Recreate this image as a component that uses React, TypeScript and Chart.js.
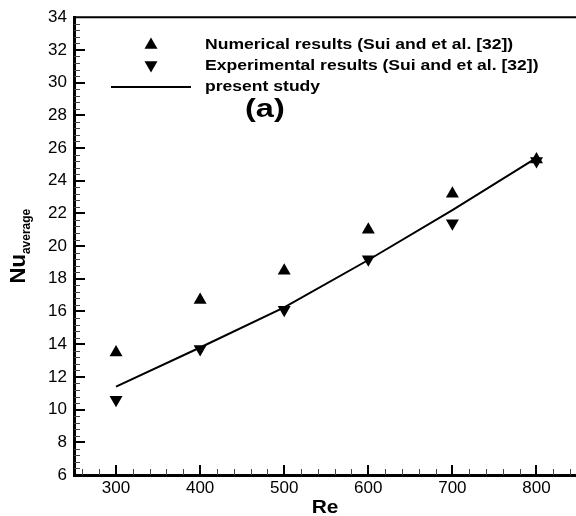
import React, { useEffect, useRef } from 'react';
import { Chart, registerables } from 'chart.js';

Chart.register(...registerables);

const RE = [300, 400, 500, 600, 700, 800];
const NUMERICAL = [13.5, 16.7, 18.5, 21.0, 23.2, 25.3];
const EXPERIMENTAL = [10.6, 13.7, 16.1, 19.2, 21.4, 25.2];
const PRESENT = [11.4, 13.8, 16.25, 19.15, 22.2, 25.4];
const X_TICKS = [300, 400, 500, 600, 700, 800];
const Y_TICKS = [6, 8, 10, 12, 14, 16, 18, 20, 22, 24, 26, 28, 30, 32, 34];
const LEGEND_LABELS = [
  'Numerical results (Sui and et al. [32])',
  'Experimental results (Sui and et al. [32])',
  'present study',
];
const PANEL_LABEL = '(a)';
const X_TITLE = 'Re';
const Y_TITLE = 'Nu';
const Y_SUB = 'average';

const FONT = '"Liberation Sans", Arial, sans-serif';

function triangle(ctx: CanvasRenderingContext2D, x: number, y: number, r: number, down: boolean) {
  ctx.beginPath();
  let rad = down ? Math.PI : 0;
  for (let i = 0; i < 3; i++) {
    const px = x + Math.sin(rad) * r;
    const py = y - Math.cos(rad) * r;
    if (i === 0) ctx.moveTo(px, py);
    else ctx.lineTo(px, py);
    rad += (2 * Math.PI) / 3;
  }
  ctx.closePath();
  ctx.fill();
}

function stretchedText(ctx: CanvasRenderingContext2D, text: string, x: number, y: number, sx: number) {
  ctx.save();
  ctx.translate(x, y);
  ctx.scale(sx, 1);
  ctx.fillText(text, 0, 0);
  ctx.restore();
}

const decorPlugin = {
  id: 'decor',
  afterDraw(chart: any) {
    const { ctx, chartArea, scales } = chart;
    const { left, right, top, bottom } = chartArea;
    const xs = scales.x;
    const ys = scales.y;
    ctx.save();
    ctx.strokeStyle = '#000';
    ctx.fillStyle = '#000';
    // top frame line
    ctx.lineWidth = 2;
    ctx.beginPath();
    ctx.moveTo(left, top);
    ctx.lineTo(right, top);
    ctx.stroke();
    // x ticks (inward)
    for (let v = 260; v <= xs.max; v += 20) {
      const px = Math.round(xs.getPixelForValue(v));
      const major = v % 100 === 0;
      ctx.lineWidth = major ? 2 : 1;
      ctx.strokeStyle = major ? '#000' : '#444';
      ctx.beginPath();
      ctx.moveTo(major ? px : px + 0.5, bottom);
      ctx.lineTo(major ? px : px + 0.5, bottom - (major ? 10 : 6));
      ctx.stroke();
    }
    // y ticks (inward)
    for (let i = 1; i < 70; i++) {
      const v = ys.min + i * 0.4;
      if (v > ys.max + 1e-6) break;
      const py = Math.round(ys.getPixelForValue(v));
      const major = i % 5 === 0;
      ctx.lineWidth = major ? 2 : 1;
      ctx.strokeStyle = major ? '#000' : '#444';
      ctx.beginPath();
      ctx.moveTo(left, major ? py : py + 0.5);
      ctx.lineTo(left + (major ? 11 : 6), major ? py : py + 0.5);
      ctx.stroke();
    }
    ctx.fillStyle = '#000';
    ctx.textBaseline = 'alphabetic';
    ctx.textAlign = 'left';
    // x title
    ctx.font = `bold 19px ${FONT}`;
    const wRe = ctx.measureText(X_TITLE).width * 1.1;
    stretchedText(ctx, X_TITLE, (left + right) / 2 - wRe / 2, 513, 1.1);
    // y title with subscript
    ctx.font = `bold 22px ${FONT}`;
    const wNu = ctx.measureText(Y_TITLE).width;
    ctx.font = `bold 12px ${FONT}`;
    const wSub = ctx.measureText(Y_SUB).width;
    const cy = (top + bottom) / 2;
    ctx.save();
    ctx.translate(25, cy + (wNu + wSub) / 2);
    ctx.rotate(-Math.PI / 2);
    ctx.font = `bold 22px ${FONT}`;
    ctx.fillText(Y_TITLE, 0, 0);
    ctx.font = `bold 12px ${FONT}`;
    ctx.fillText(Y_SUB, wNu, 5);
    ctx.restore();
    // legend
    triangle(ctx, 151, 45, 7.5, false);
    triangle(ctx, 151, 65, 7.5, true);
    ctx.lineWidth = 2;
    ctx.strokeStyle = '#000';
    ctx.beginPath();
    ctx.moveTo(111, 87);
    ctx.lineTo(191, 87);
    ctx.stroke();
    ctx.font = `bold 15px ${FONT}`;
    stretchedText(ctx, LEGEND_LABELS[0], 205, 49, 1.17);
    stretchedText(ctx, LEGEND_LABELS[1], 205, 70, 1.17);
    stretchedText(ctx, LEGEND_LABELS[2], 205, 91, 1.17);
    ctx.font = `bold 25px ${FONT}`;
    stretchedText(ctx, PANEL_LABEL, 245, 117, 1.3);
    ctx.restore();
  },
};

export default function App() {
  const ref = useRef<HTMLCanvasElement | null>(null);
  useEffect(() => {
    if (!ref.current) return;
    const chart = new Chart(ref.current, {
      type: 'line',
      data: {
        datasets: [
          {
            label: LEGEND_LABELS[2],
            data: RE.map((x, i) => ({ x, y: PRESENT[i] })),
            borderColor: '#000',
            borderWidth: 2,
            pointRadius: 0,
            tension: 0,
            fill: false,
          },
          {
            label: LEGEND_LABELS[0],
            data: RE.map((x, i) => ({ x, y: NUMERICAL[i] })),
            showLine: false,
            pointStyle: 'triangle',
            pointRadius: 7.5,
            pointBorderWidth: 0,
            pointBackgroundColor: '#000',
            borderColor: '#000',
          },
          {
            label: LEGEND_LABELS[1],
            data: RE.map((x, i) => ({ x, y: EXPERIMENTAL[i] })),
            showLine: false,
            pointStyle: 'triangle',
            rotation: 180,
            pointRadius: 7.5,
            pointBorderWidth: 0,
            pointBackgroundColor: '#000',
            borderColor: '#000',
          } as any,
        ],
      },
      options: {
        animation: false,
        responsive: false,
        maintainAspectRatio: false,
        layout: { autoPadding: false, padding: { top: 15, right: 0, left: 0, bottom: 0 } },
        plugins: { legend: { display: false }, tooltip: { enabled: false } },
        elements: { point: { hoverRadius: 7.5 } },
        scales: {
          x: {
            type: 'linear',
            min: 250,
            max: 847,
            grid: { display: false, drawTicks: false },
            border: { display: true, width: 3, color: '#000' },
            afterBuildTicks: (s: any) => {
              s.ticks = X_TICKS.map((value) => ({ value }));
            },
            afterFit: (s: any) => {
              s.height = 41;
            },
            ticks: {
              color: '#000',
              padding: 3,
              maxRotation: 0,
              autoSkip: false,
              font: { family: FONT, size: 17 },
            },
          },
          y: {
            type: 'linear',
            min: 6,
            max: 34,
            grid: { display: false, drawTicks: false },
            border: { display: true, width: 3, color: '#000' },
            afterBuildTicks: (s: any) => {
              s.ticks = Y_TICKS.map((value) => ({ value }));
            },
            afterFit: (s: any) => {
              s.width = 74;
            },
            ticks: {
              color: '#000',
              padding: 7,
              autoSkip: false,
              font: { family: FONT, size: 17 },
            },
          },
        },
      } as any,
      plugins: [decorPlugin],
    });
    return () => chart.destroy();
  }, []);
  return (
    <div style={{ position: 'absolute', left: 0, top: 0, width: 576, height: 516, background: '#fff' }}>
      <canvas ref={ref} width={576} height={516} style={{ width: 576, height: 516 }} />
    </div>
  );
}
